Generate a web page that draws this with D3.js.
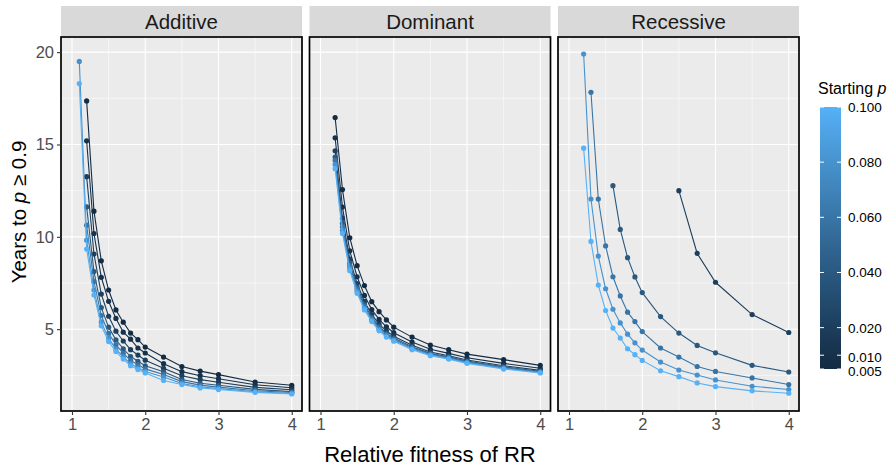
<!DOCTYPE html>
<html>
<head>
<meta charset="utf-8">
<script src="https://cdn.jsdelivr.net/npm/d3@7"></script>
<style>
  body { margin: 0; background: #fff; }
  svg { font-family: "Liberation Sans", Arial, sans-serif; }
</style>
</head>
<body>
<svg id="chart" width="892" height="469"></svg>
<script>
// relative fitness of RR (x) and starting frequency p (colour)
var fitness = [1.1, 1.2, 1.3, 1.4, 1.5, 1.6, 1.7, 1.8, 1.9, 2.0, 2.25, 2.5, 2.75, 3.0, 3.5, 4.0];
var startingP = [0.005, 0.01, 0.02, 0.04, 0.06, 0.08, 0.1];

// years to p >= 0.9, one row per starting p (null = beyond 20 years)
var additive = [
    [null, 17.36, 11.39, 8.70, 7.12, 6.04, 5.38, 4.79, 4.43, 4.03, 3.49, 2.98, 2.73, 2.54, 2.14, 1.96],
    [null, 15.20, 10.18, 7.81, 6.51, 5.58, 4.84, 4.46, 3.98, 3.71, 3.13, 2.70, 2.48, 2.32, 1.99, 1.83],
    [null, 13.26, 9.07, 6.90, 5.70, 4.89, 4.36, 3.89, 3.60, 3.32, 2.88, 2.48, 2.27, 2.13, 1.85, 1.72],
    [null, 11.62, 8.12, 6.17, 5.11, 4.42, 3.94, 3.52, 3.26, 3.02, 2.70, 2.27, 2.07, 1.96, 1.74, 1.62],
    [null, 10.63, 7.58, 5.74, 4.78, 4.15, 3.70, 3.30, 3.07, 2.85, 2.55, 2.16, 1.97, 1.86, 1.67, 1.57],
    [19.50, 9.82, 7.12, 5.39, 4.50, 3.92, 3.50, 3.13, 2.91, 2.71, 2.41, 2.06, 1.88, 1.78, 1.61, 1.52],
    [18.30, 9.34, 6.85, 5.18, 4.33, 3.79, 3.38, 3.02, 2.81, 2.63, 2.22, 2.00, 1.82, 1.73, 1.58, 1.49]
];

var dominant = [
    [null, 16.46, 12.56, 9.95, 8.44, 7.36, 6.49, 5.95, 5.50, 5.11, 4.57, 4.14, 3.89, 3.65, 3.35, 3.04],
    [null, 15.36, 11.61, 9.24, 7.84, 6.83, 6.06, 5.53, 5.13, 4.81, 4.30, 3.91, 3.69, 3.45, 3.15, 2.88],
    [null, 14.66, 11.01, 8.79, 7.47, 6.50, 5.79, 5.27, 4.90, 4.62, 4.13, 3.76, 3.56, 3.33, 3.02, 2.77],
    [null, 14.32, 10.73, 8.58, 7.29, 6.34, 5.66, 5.15, 4.78, 4.52, 4.05, 3.69, 3.50, 3.27, 2.96, 2.72],
    [null, 14.14, 10.54, 8.44, 7.17, 6.24, 5.57, 5.07, 4.71, 4.46, 3.99, 3.65, 3.46, 3.23, 2.92, 2.69],
    [null, 13.92, 10.35, 8.29, 7.05, 6.13, 5.49, 4.98, 4.64, 4.40, 3.94, 3.60, 3.42, 3.19, 2.88, 2.66],
    [null, 13.69, 10.18, 8.17, 6.94, 6.04, 5.41, 4.91, 4.57, 4.35, 3.89, 3.56, 3.38, 3.15, 2.84, 2.63]
];

var recessive = [
    [null, null, null, null, null, null, null, null, null, null, null, null, null, null, null, null],
    [null, null, null, null, null, null, null, null, null, null, null, null, null, null, null, null],
    [null, null, null, null, null, null, null, null, null, null, null, 12.50, 9.10, 7.54, 5.79, 4.82],
    [null, null, null, null, null, 12.77, 10.40, 8.87, 7.83, 6.98, 5.68, 4.79, 4.12, 3.72, 3.04, 2.68],
    [null, null, 17.83, 12.05, 9.51, 7.84, 6.80, 5.92, 5.41, 4.87, 3.98, 3.49, 2.98, 2.71, 2.36, 2.00],
    [null, 19.90, 12.05, 8.96, 7.19, 6.08, 5.34, 4.73, 4.26, 3.87, 3.22, 2.79, 2.52, 2.25, 1.91, 1.73],
    [null, 14.80, 9.75, 7.39, 6.01, 5.06, 4.52, 3.94, 3.62, 3.31, 2.75, 2.43, 2.09, 1.89, 1.66, 1.53]
];

var panelNames = ['Additive', 'Dominant', 'Recessive'];
var panelData = [additive, dominant, recessive];
var xTicks = [1, 2, 3, 4];
var xMinor = [1.5, 2.5, 3.5];
var yTicks = [5, 10, 15, 20];
var yMinor = [2.5, 7.5, 12.5, 17.5];
var legendBreaks = [0.005, 0.01, 0.02, 0.04, 0.06, 0.08, 0.1];

var svg = d3.select('#chart');

var panelLeft = 61, panelWidth = 241, panelGap = 7.5;
var stripTop = 6, stripHeight = 31;
var panelTop = stripTop + stripHeight, panelBottom = 411;

// y range from data with ggplot-like 5% expansion
var allValues = d3.merge(panelData.map(function(p) { return d3.merge(p); })).filter(function(v) { return v != null; });
var yExt = d3.extent(allValues);
var yPad = (yExt[1] - yExt[0]) * 0.05;
var y = d3.scaleLinear()
    .domain([yExt[0] - yPad, yExt[1] + yPad])
    .range([panelBottom, panelTop]);

var colour = d3.scaleLinear()
    .domain([0.005, 0.1])
    .range(['#132B43', '#56B1F7'])
    .interpolate(d3.interpolateLab);

panelNames.forEach(function(name, i) {
    var x0 = panelLeft + i * (panelWidth + panelGap);
    var x = d3.scaleLinear()
        .domain([0.85, 4.14])
        .range([x0, x0 + panelWidth]);

    var g = svg.append('g').attr('class', 'panel');

    g.append('rect')
        .attr('x', x0).attr('y', panelTop)
        .attr('width', panelWidth).attr('height', panelBottom - panelTop)
        .attr('fill', '#EBEBEB');

    // grid
    g.selectAll('.xminor').data(xMinor).enter().append('line')
        .attr('x1', function(d) { return x(d); }).attr('x2', function(d) { return x(d); })
        .attr('y1', panelTop).attr('y2', panelBottom)
        .attr('stroke', '#fff').attr('stroke-width', 0.55);
    g.selectAll('.yminor').data(yMinor).enter().append('line')
        .attr('x1', x0).attr('x2', x0 + panelWidth)
        .attr('y1', function(d) { return y(d); }).attr('y2', function(d) { return y(d); })
        .attr('stroke', '#fff').attr('stroke-width', 0.55);
    g.selectAll('.xmajor').data(xTicks).enter().append('line')
        .attr('x1', function(d) { return x(d); }).attr('x2', function(d) { return x(d); })
        .attr('y1', panelTop).attr('y2', panelBottom)
        .attr('stroke', '#fff').attr('stroke-width', 1.1);
    g.selectAll('.ymajor').data(yTicks).enter().append('line')
        .attr('x1', x0).attr('x2', x0 + panelWidth)
        .attr('y1', function(d) { return y(d); }).attr('y2', function(d) { return y(d); })
        .attr('stroke', '#fff').attr('stroke-width', 1.1);

    // series, darkest first
    var series = startingP.map(function(p, k) {
        return {
            p: p,
            pts: fitness.map(function(f, j) { return { x: f, v: panelData[i][k][j] }; })
                .filter(function(d) { return d.v != null; })
        };
    });

    var line = d3.line()
        .x(function(d) { return x(d.x); })
        .y(function(d) { return y(d.v); });

    var sg = g.selectAll('.series').data(series).enter().append('g');
    sg.append('path')
        .attr('d', function(d) { return line(d.pts); })
        .attr('fill', 'none')
        .attr('stroke', function(d) { return colour(d.p); })
        .attr('stroke-width', 1.1);
    sg.selectAll('circle').data(function(d) { return d.pts.map(function(q) { return { x: q.x, v: q.v, p: d.p }; }); })
        .enter().append('circle')
        .attr('cx', function(d) { return x(d.x); })
        .attr('cy', function(d) { return y(d.v); })
        .attr('r', 2.6)
        .attr('fill', function(d) { return colour(d.p); });

    g.append('rect')
        .attr('x', x0).attr('y', panelTop)
        .attr('width', panelWidth).attr('height', panelBottom - panelTop)
        .attr('fill', 'none').attr('stroke', '#000').attr('stroke-width', 1.7);

    // strip
    g.append('rect')
        .attr('x', x0).attr('y', stripTop)
        .attr('width', panelWidth).attr('height', stripHeight - 1)
        .attr('fill', '#D9D9D9');
    g.append('text')
        .attr('x', x0 + panelWidth / 2).attr('y', stripTop + 22.5)
        .attr('text-anchor', 'middle')
        .attr('font-size', 20.5)
        .attr('fill', '#1A1A1A')
        .text(name);

    // x axis
    var xa = g.append('g').attr('transform', 'translate(0,' + panelBottom + ')')
        .call(d3.axisBottom(x).tickValues(xTicks).tickSize(4).tickPadding(3).tickFormat(d3.format('d')));
    xa.select('.domain').remove();
    xa.selectAll('line').attr('stroke', '#333').attr('stroke-width', 1.1);
    xa.selectAll('text').attr('fill', '#4D4D4D').attr('font-size', 16.5)
        .attr('font-family', '"Liberation Sans", Arial, sans-serif');

    if (i === 0) {
        var ya = g.append('g').attr('transform', 'translate(' + x0 + ',0)')
            .call(d3.axisLeft(y).tickValues(yTicks).tickSize(4).tickPadding(3));
        ya.select('.domain').remove();
        ya.selectAll('line').attr('stroke', '#333').attr('stroke-width', 1.1);
        ya.selectAll('text').attr('fill', '#4D4D4D').attr('font-size', 16.5)
            .attr('font-family', '"Liberation Sans", Arial, sans-serif');
    }
});

// axis titles
svg.append('text')
    .attr('x', (panelLeft + panelLeft + 3 * panelWidth + 2 * panelGap) / 2)
    .attr('y', 462)
    .attr('text-anchor', 'middle')
    .attr('font-size', 22)
    .attr('fill', '#000')
    .text('Relative fitness of RR');

var yt = svg.append('text')
    .attr('transform', 'translate(26,212) rotate(-90)')
    .attr('text-anchor', 'middle')
    .attr('font-size', 20.5)
    .attr('fill', '#000');
yt.append('tspan').text('Years to ');
yt.append('tspan').attr('font-style', 'italic').text('p');
yt.append('tspan').text(' \u2265 0.9');

// legend
var barX = 820, barW = 21, barTop = 107, barBottom = 369;
var ly = d3.scaleLinear().domain([0.005, 0.1]).range([barBottom, barTop]);

var lt = svg.append('text')
    .attr('x', barX - 2).attr('y', 94)
    .attr('font-size', 16).attr('fill', '#000');
lt.append('tspan').text('Starting ');
lt.append('tspan').attr('font-style', 'italic').text('p');

var defs = svg.append('defs');
var grad = defs.append('linearGradient').attr('id', 'pgrad')
    .attr('x1', 0).attr('y1', 1).attr('x2', 0).attr('y2', 0);
d3.range(0, 1.0001, 0.1).forEach(function(t) {
    grad.append('stop').attr('offset', t)
        .attr('stop-color', colour(0.005 + t * 0.095));
});
svg.append('rect')
    .attr('x', barX).attr('y', barTop)
    .attr('width', barW).attr('height', barBottom - barTop)
    .attr('fill', 'url(#pgrad)');

var lg = svg.append('g');
lg.selectAll('.tl').data(legendBreaks).enter().append('line')
    .attr('x1', barX).attr('x2', barX + 4)
    .attr('y1', function(d) { return ly(d); }).attr('y2', function(d) { return ly(d); })
    .attr('stroke', '#fff').attr('stroke-width', 1);
lg.selectAll('.tr').data(legendBreaks).enter().append('line')
    .attr('x1', barX + barW - 4).attr('x2', barX + barW)
    .attr('y1', function(d) { return ly(d); }).attr('y2', function(d) { return ly(d); })
    .attr('stroke', '#fff').attr('stroke-width', 1);
lg.selectAll('text').data(legendBreaks).enter().append('text')
    .attr('x', 848)
    .attr('y', function(d) { return ly(d) + 5 + (d < 0.015 ? 2 : 0); })
    .attr('font-size', 13.5).attr('fill', '#000')
    .text(function(d) { return d3.format('.3f')(d); });
</script>
</body>
</html>
